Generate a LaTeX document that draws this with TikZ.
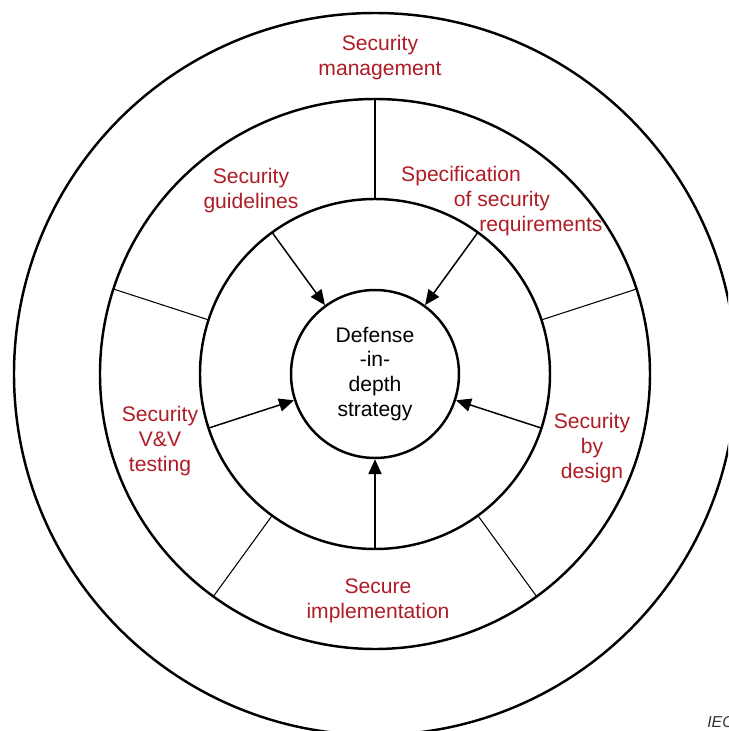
\documentclass[tikz,border=0pt]{standalone}
\usepackage{fontspec}
\setmainfont{Liberation Sans}
\usetikzlibrary{arrows.meta}
\definecolor{iecred}{RGB}{175,28,38}
\tikzset{
    ring/.style={
           draw=black, line width=1.4pt
           },
    spoke/.style={
           draw=black, line width=0.6pt
           },
    ringtext/.style={
           text=iecred,
           align=center,
           inner sep=0pt,
           font=\fontsize{12}{14.2}\selectfont
           },
    core/.style={
           circle,
           draw=black, line width=1.4pt,
           minimum size=3.36cm,
           inner sep=0pt,
           align=center,
           font=\fontsize{12}{14.2}\selectfont
           },
}

\begin{document}
\begin{tikzpicture}[x=0.02cm,y=0.02cm,>={Triangle[length=8.5pt,width=7.5pt]}]

             \clip (-375,-357) rectangle (353,374);
             \coordinate (C) at (0,0);

             % the three rings round the core
             \draw[ring] (C) circle (361);
             \draw[ring] (C) circle (275);
             \draw[ring] (C) circle (175);

             \node[core] (DID) at (C)
             {Defense\\-in-\\depth\\strategy};

             % borders of the five sectors
             \foreach \a in {90,18,-54,-126,162}
                \draw[spoke] (\a:175) -- (\a:275);

             \foreach \a/\n in {126/guide,54/spec,-18/design,-90/impl,198/vv}
                \coordinate (\n-in) at (\a:175);

             \node[ringtext] (mgmt) at (5,316) {Security\\management};
             \node[ringtext] (guide) at (-124,183) {Security\\guidelines};
             \node[ringtext] (spec1) at (86,198) {Specification};
             \node[ringtext] (spec2) at (127,173) {of security};
             \node[ringtext] (spec3) at (166,148) {requirements};
             \node[ringtext] (design) at (217,-74) {Security\\by\\design};
             \node[ringtext] (impl) at (3,-227) {Secure\\implementation};
             \node[ringtext] (vv) at (-215,-67) {Security\\V\&V\\testing};

             \node[anchor=west, inner sep=0pt, text=black!80,
                   font=\itshape\fontsize{9}{10}\selectfont] (iec) at (332,-348) {IEC};

             \path[->, line width=0.85pt]
             (guide-in)  edge (DID)
             (spec-in)   edge (DID)
             (design-in) edge (DID)
             (impl-in)   edge (DID)
             (vv-in)     edge (DID)
             ;

\end{tikzpicture}
\end{document}
